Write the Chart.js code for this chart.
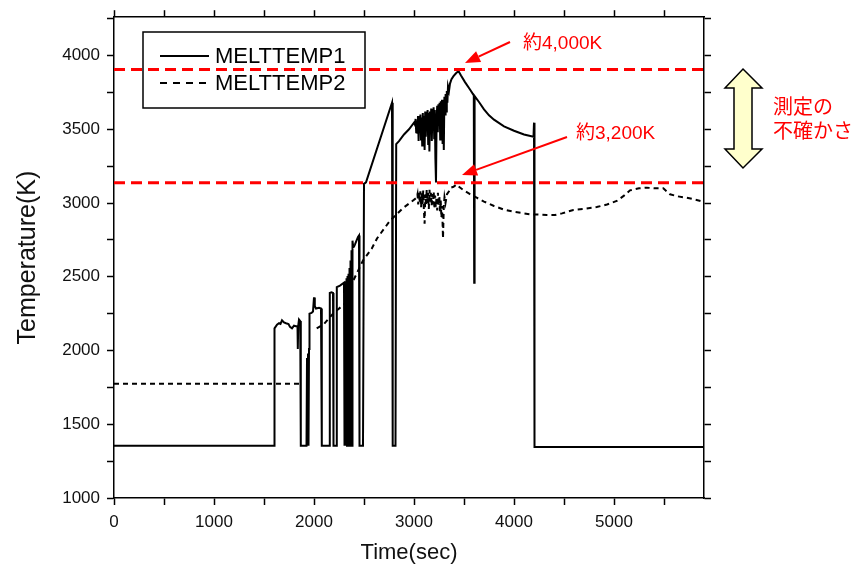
<!DOCTYPE html>
<html>
<head>
<meta charset="utf-8">
<script src="https://cdn.jsdelivr.net/npm/chart.js@4"></script>
<style>
  html, body { margin: 0; padding: 0; background: #fff; }
  #wrap { position: relative; width: 863px; height: 567px; }
</style>
</head>
<body>
<div id="wrap"><canvas id="chart" width="863" height="567"></canvas></div>
<script>
// MELTTEMP1 (solid)
const melt1Time = [
  0, 1600, 1605, 1630, 1650, 1665, 1680, 1700, 1720, 1745, 1760, 1780, 1800, 1820, 1835, 1838, 1842, 1850, 1862, 1868,
  1925, 1930, 1935, 1940, 1945, 1950, 1955, 1975, 1990, 2000, 2008, 2020, 2050, 2070, 2078,
  2150, 2158, 2175, 2190, 2195, 2222, 2228, 2260, 2300, 2305, 2312, 2318, 2325, 2330, 2335, 2340, 2345, 2350,
  2355, 2360, 2365, 2370, 2375, 2380, 2385, 2392, 2400, 2410, 2425, 2440, 2450, 2455,
  2490, 2500, 2520, 2780, 2787, 2815, 2822, 2850, 2900, 2950,
  3000, 3010, 3016, 3022, 3028, 3034, 3040, 3046, 3052, 3058, 3064, 3070, 3076, 3082, 3088, 3094, 3100, 3106,
  3112, 3118, 3124, 3130, 3136, 3142, 3148, 3154, 3160, 3166, 3172, 3178, 3184, 3190, 3196, 3202, 3208, 3214,
  3220, 3226, 3232, 3238, 3244, 3250, 3256, 3262, 3268, 3274, 3280, 3286, 3292, 3298, 3304, 3310, 3316, 3322,
  3328, 3334, 3340, 3350, 3360, 3375, 3395, 3420, 3445,
  3470, 3510, 3560, 3598, 3602, 3606, 3650, 3700, 3750, 3800, 3900, 4000, 4100, 4195, 4200, 4205, 5900
];
const melt1Temp = [
  1355, 1355, 2150, 2175, 2185, 2180, 2205, 2190, 2185, 2180, 2160, 2150, 2168, 2165, 2165, 2010, 2165, 2210, 2200, 1355,
  1355, 1950, 1355, 1980, 1355, 2010, 2250, 2255, 2265, 2360, 2300, 2285, 2290, 2285, 1355,
  1355, 2390, 2395, 2390, 1355, 1355, 2430, 2440, 2460, 1355, 2470, 1355, 2490, 1355, 2505, 1355, 2520, 1355,
  2560, 1355, 2610, 1355, 2680, 1355, 2745, 2700, 2705, 2720, 2745, 2770, 2780, 1355,
  1355, 3130, 3140, 3680, 1355, 1355, 3400, 3420, 3465, 3500,
  3545, 3530, 3570, 3480, 3560, 3470, 3590, 3420, 3580, 3500, 3600, 3430, 3580, 3390, 3610, 3470, 3590, 3360,
  3620, 3450, 3600, 3500, 3630, 3400, 3610, 3350, 3620, 3480, 3640, 3420, 3600, 3520, 3650, 3440, 3630, 3300,
  3140, 3560, 3660, 3480, 3670, 3530, 3680, 3430, 3690, 3550, 3700, 3400, 3690, 3360, 3720, 3600, 3740, 3620,
  3760, 3680, 3790, 3760, 3810, 3840, 3860, 3880, 3895,
  3865, 3820, 3770, 3730, 2460, 3725, 3685, 3635, 3595, 3565, 3520, 3490, 3465, 3450, 3545, 1345, 1345
];

// MELTTEMP2 (dashed); null marks the break in the trace
const melt2Time = [
  0, 1885, 1935, 2027, 2100, 2190, 2310, 2390, 2490, 2577, 2630, 2760, 2890,
  3027, 3035, 3042, 3050, 3057, 3064, 3071, 3078, 3085, 3092, 3099, 3106, 3113, 3120, 3127, 3134, 3141, 3148,
  3155, 3162, 3169, 3176, 3183, 3190, 3197, 3204, 3211, 3218, 3225, 3232, 3239, 3246, 3253, 3260, 3267, 3274,
  3281, 3290, 3298, 3305, 3315, 3330, 3350, 3370, 3395, 3425, 3460, 3500, 3560,
  3627, 3700, 3800, 3893, 4000, 4160, 4327, 4410, 4480, 4593, 4700, 4827, 4930, 5027, 5100, 5160, 5250, 5327,
  5420, 5493, 5560, 5640, 5727, 5800, 5893
];
const melt2Temp = [
  1775, 1775, null, 2150, 2180, 2250, 2318, 2470, 2610, 2690, 2760, 2880, 2966,
  3036, 3060, 2990, 3075, 3000, 3080, 2970, 3070, 2990, 3085, 2950, 2860, 3060, 2980, 3090, 3000, 3070, 2960,
  3090, 3010, 3070, 2980, 3060, 2990, 3080, 2960, 3050, 2970, 3040, 2950, 3070, 2980, 3050, 2940, 3020, 2900,
  2980, 2760, 2980, 3040, 3000, 3060, 3080, 3105, 3110, 3126, 3105, 3085, 3060,
  3036, 3010, 2980, 2957, 2940, 2924, 2919, 2919, 2930, 2953, 2960, 2973, 2990, 3014, 3050, 3086, 3100, 3104,
  3100, 3100, 3059, 3045, 3036, 3025, 3009
];

const seriesNames = ['MELTTEMP1', 'MELTTEMP2'];
const limitTemps = [3905, 3137];
const timeRange = [0, 5900];
const tempRange = [1000, 4260];
const noteLabels = ['約4,000K', '約3,200K'];
const rangeLabel = ['測定の', '不確かさ'];

const toPoints = (xs, ys) => xs.map((x, i) => ({ x, y: ys[i] }));
const FONT = '"Liberation Sans", Arial, "Noto Sans CJK JP", sans-serif';

const limitSets = limitTemps.map(t => ({
  label: 'limit',
  data: [{ x: timeRange[0], y: t }, { x: timeRange[1], y: t }],
  borderColor: '#ff0000',
  borderWidth: 3,
  borderDash: [11, 6],
  pointRadius: 0,
  order: 0,
}));

function arrow(ctx, x1, y1, x2, y2) {
  const a = Math.atan2(y2 - y1, x2 - x1);
  const len = 15, half = 6;
  const bx = x2 - len * Math.cos(a), by = y2 - len * Math.sin(a);
  ctx.beginPath();
  ctx.moveTo(x1, y1);
  ctx.lineTo(bx, by);
  ctx.stroke();
  ctx.beginPath();
  ctx.moveTo(x2, y2);
  ctx.lineTo(bx + half * Math.sin(a), by - half * Math.cos(a));
  ctx.lineTo(bx - half * Math.sin(a), by + half * Math.cos(a));
  ctx.closePath();
  ctx.fill();
}

const overlay = {
  id: 'overlay',
  afterDraw(chart) {
    const ctx = chart.ctx;
    const series = chart.data.datasets.filter(d => seriesNames.includes(d.label));
    ctx.save();

    // legend box
    ctx.strokeStyle = '#000';
    ctx.lineWidth = 1.5;
    ctx.strokeRect(143, 32, 222, 76);
    ctx.font = '22px ' + FONT;
    ctx.fillStyle = '#000';
    ctx.textBaseline = 'middle';
    [56, 83].forEach((y, i) => {
      ctx.beginPath();
      ctx.setLineDash(i === 0 ? [] : [7, 6]);
      ctx.lineWidth = 2;
      ctx.strokeStyle = series[i].borderColor;
      ctx.moveTo(160, y);
      ctx.lineTo(209, y);
      ctx.stroke();
      ctx.fillText(series[i].label, 215, y + 1);
    });
    ctx.setLineDash([]);

    // red notes with arrows
    ctx.strokeStyle = '#ff0000';
    ctx.fillStyle = '#ff0000';
    ctx.lineWidth = 2;
    arrow(ctx, 510, 42, 465, 63);
    arrow(ctx, 567, 137, 462, 175);
    ctx.font = '19px ' + FONT;
    ctx.fillText(noteLabels[0], 523, 44);
    ctx.fillText(noteLabels[1], 576, 134);
    ctx.font = '20px ' + FONT;
    ctx.fillText(rangeLabel[0], 773, 108);
    ctx.fillText(rangeLabel[1], 773, 132);

    // double arrow
    ctx.beginPath();
    ctx.moveTo(743, 69);
    ctx.lineTo(762, 88);
    ctx.lineTo(752, 88);
    ctx.lineTo(752, 149);
    ctx.lineTo(762, 149);
    ctx.lineTo(743, 168);
    ctx.lineTo(725, 149);
    ctx.lineTo(734, 149);
    ctx.lineTo(734, 88);
    ctx.lineTo(725, 88);
    ctx.closePath();
    ctx.fillStyle = '#ffffcc';
    ctx.fill();
    ctx.strokeStyle = '#000';
    ctx.lineWidth = 1.5;
    ctx.stroke();
    ctx.restore();
  }
};

// ticks every `step` across the fixed range
const stepTicks = step => s => {
  const out = [];
  for (let v = Math.ceil(s.min / step) * step; v <= s.max; v += step) out.push({ value: v });
  s.ticks = out;
};
const edge = { color: '#000', width: 1.5 };
const tickGrid = { drawOnChartArea: false, drawTicks: true, tickLength: 7, color: '#000', tickWidth: 1.5 };

new Chart(document.getElementById('chart'), {
  type: 'line',
  data: {
    datasets: [
      ...limitSets,
      {
        label: seriesNames[0],
        data: toPoints(melt1Time, melt1Temp),
        borderColor: '#000',
        borderWidth: 2,
        pointRadius: 0,
        tension: 0,
        order: 1,
      },
      {
        label: seriesNames[1],
        data: toPoints(melt2Time, melt2Temp),
        borderColor: '#000',
        borderWidth: 2,
        borderDash: [5, 4],
        pointRadius: 0,
        tension: 0,
        spanGaps: false,
        order: 2,
      },
    ],
  },
  options: {
    responsive: false,
    animation: false,
    layout: { padding: 0 },
    plugins: { legend: { display: false }, tooltip: { enabled: false } },
    scales: {
      x: {
        type: 'linear',
        position: 'bottom',
        min: timeRange[0],
        max: timeRange[1],
        border: edge,
        grid: tickGrid,
        ticks: {
          autoSkip: false,
          maxRotation: 0,
          padding: 7,
          color: '#111',
          font: { size: 17, family: FONT },
          callback: v => (v % 1000 === 0 ? v : ''),
        },
        title: { display: true, text: 'Time(sec)', color: '#111', font: { size: 22, family: FONT }, padding: { top: 0, bottom: 1 } },
        afterBuildTicks: stepTicks(500),
        afterFit: s => { s.height = 69; },
      },
      xTop: {
        type: 'linear',
        axis: 'x',
        position: 'top',
        min: timeRange[0],
        max: timeRange[1],
        border: edge,
        grid: tickGrid,
        ticks: { display: false },
        afterBuildTicks: stepTicks(500),
        afterFit: s => { s.height = 15; },
      },
      y: {
        type: 'linear',
        position: 'left',
        min: tempRange[0],
        max: tempRange[1],
        border: edge,
        grid: tickGrid,
        ticks: {
          autoSkip: false,
          padding: 7,
          color: '#111',
          font: { size: 17, family: FONT },
          callback: v => (v % 500 === 0 ? v : ''),
        },
        title: { display: true, text: 'Temperature(K)', color: '#111', font: { size: 25, family: FONT }, padding: { top: 13 } },
        afterBuildTicks: stepTicks(250),
        afterFit: s => { s.width = 114; },
      },
      yRight: {
        type: 'linear',
        axis: 'y',
        position: 'right',
        min: tempRange[0],
        max: tempRange[1],
        border: edge,
        grid: tickGrid,
        ticks: { display: false },
        afterBuildTicks: stepTicks(250),
        afterFit: s => { s.width = 159; },
      },
    },
  },
  plugins: [overlay],
});
</script>
</body>
</html>
